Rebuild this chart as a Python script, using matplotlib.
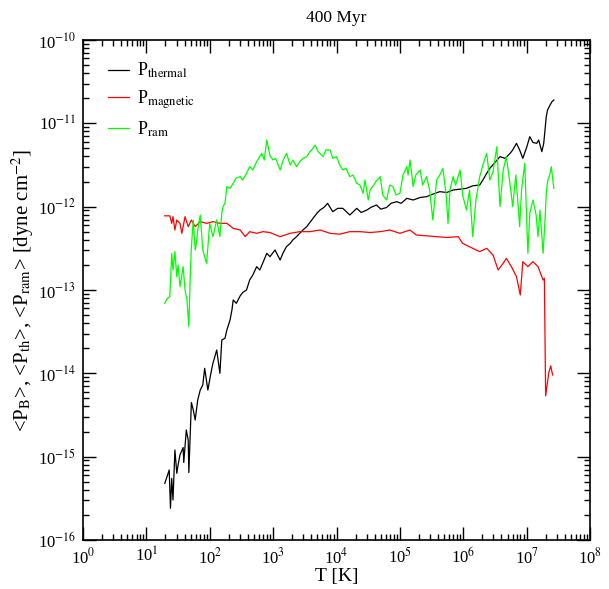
import numpy as np
import matplotlib
matplotlib.use("Agg")
import matplotlib.pyplot as plt

# values, stored as log10(T [K]) and log10(P [dyne cm^-2])
thermal_logT = [1.29, 1.33, 1.36, 1.38, 1.40, 1.42, 1.45, 1.48, 1.50, 1.53, 1.58, 1.59, 1.63, 1.66,
                1.67, 1.71, 1.74, 1.77, 1.81, 1.85, 1.89, 1.92, 1.97, 2.02, 2.05, 2.11, 2.16, 2.19,
                2.24, 2.27, 2.32, 2.35, 2.37, 2.42, 2.48, 2.52, 2.58, 2.63, 2.68, 2.74, 2.79, 2.84,
                2.90, 2.95, 3.03, 3.11, 3.16, 3.21, 3.27, 3.31, 3.37, 3.42, 3.47, 3.53, 3.58, 3.63,
                3.69, 3.74, 3.80, 3.86, 3.94, 4.02, 4.10, 4.21, 4.32, 4.39, 4.48, 4.54, 4.63, 4.70,
                4.79, 4.86, 4.95, 5.02, 5.11, 5.21, 5.32, 5.42, 5.52, 5.63, 5.74, 5.84, 5.95, 6.05,
                6.15, 6.26, 6.31, 6.37, 6.42, 6.50, 6.58, 6.66, 6.74, 6.78, 6.84, 6.89, 6.94, 7.00,
                7.05, 7.10, 7.16, 7.19, 7.24, 7.27, 7.31, 7.33, 7.37, 7.40, 7.43]
thermal_logP = [-15.32, -15.23, -15.16, -15.62, -15.26, -15.52, -14.92, -15.20, -15.10, -14.98, -14.89, -15.07, -14.68, -14.80,
                -15.19, -14.35, -14.44, -14.56, -14.32, -14.20, -14.14, -13.94, -14.20, -13.99, -13.88, -13.72, -14.00, -13.60,
                -13.58, -13.48, -13.36, -13.24, -13.12, -13.16, -13.07, -13.03, -13.00, -12.88, -12.82, -12.72, -12.76, -12.67,
                -12.56, -12.60, -12.52, -12.64, -12.55, -12.48, -12.44, -12.40, -12.36, -12.32, -12.28, -12.24, -12.19, -12.14,
                -12.08, -12.04, -12.01, -11.96, -12.06, -12.02, -12.02, -12.10, -12.02, -12.07, -12.04, -12.01, -11.98, -12.03,
                -12.01, -11.96, -11.94, -11.96, -11.90, -11.92, -11.89, -11.88, -11.85, -11.82, -11.83, -11.80, -11.79, -11.78,
                -11.75, -11.74, -11.68, -11.60, -11.54, -11.47, -11.40, -11.42, -11.36, -11.32, -11.24, -11.32, -11.42, -11.29,
                -11.16, -11.23, -11.24, -11.20, -11.34, -11.24, -10.92, -10.84, -10.78, -10.74, -10.72]

magnetic_logT = [1.29, 1.37, 1.40, 1.42, 1.45, 1.48, 1.53, 1.56, 1.61, 1.66, 1.71, 1.77, 1.85, 1.95,
                 2.05, 2.16, 2.27, 2.37, 2.48, 2.56, 2.63, 2.74, 2.84, 2.95, 3.11, 3.27, 3.42, 3.58,
                 3.74, 3.90, 4.05, 4.21, 4.37, 4.53, 4.69, 4.84, 5.00, 5.08, 5.16, 5.26, 5.42, 5.58,
                 5.74, 5.92, 5.99, 6.15, 6.26, 6.37, 6.47, 6.55, 6.63, 6.68, 6.76, 6.84, 6.90, 6.94,
                 7.02, 7.10, 7.18, 7.26, 7.28, 7.30, 7.35, 7.38, 7.41]
magnetic_logP = [-12.11, -12.11, -12.20, -12.12, -12.28, -12.16, -12.20, -12.32, -12.12, -12.24, -12.16, -12.24, -12.18, -12.20,
                 -12.18, -12.20, -12.20, -12.26, -12.28, -12.36, -12.30, -12.32, -12.30, -12.31, -12.36, -12.32, -12.30, -12.30,
                 -12.28, -12.32, -12.33, -12.30, -12.30, -12.31, -12.30, -12.28, -12.32, -12.30, -12.28, -12.34, -12.35, -12.36,
                 -12.37, -12.36, -12.44, -12.50, -12.54, -12.50, -12.58, -12.76, -12.68, -12.62, -12.72, -12.84, -13.06, -12.66,
                 -12.72, -12.66, -12.72, -12.88, -12.86, -14.27, -13.99, -13.91, -14.02]

ram_logT = [1.29, 1.33, 1.37, 1.40, 1.42, 1.45, 1.48, 1.50, 1.53, 1.58, 1.61, 1.64, 1.67, 1.69,
            1.71, 1.74, 1.77, 1.79, 1.81, 1.85, 1.89, 1.95, 2.00, 2.05, 2.11, 2.16, 2.19, 2.21,
            2.24, 2.27, 2.32, 2.37, 2.41, 2.48, 2.52, 2.58, 2.63, 2.68, 2.74, 2.82, 2.86, 2.90,
            2.95, 3.00, 3.04, 3.11, 3.16, 3.21, 3.27, 3.31, 3.37, 3.42, 3.47, 3.53, 3.58, 3.63,
            3.66, 3.71, 3.79, 3.83, 3.90, 3.94, 4.00, 4.05, 4.10, 4.15, 4.21, 4.26, 4.32, 4.37,
            4.42, 4.45, 4.50, 4.53, 4.57, 4.62, 4.69, 4.73, 4.79, 4.84, 4.89, 4.94, 5.00, 5.05,
            5.11, 5.13, 5.16, 5.21, 5.25, 5.32, 5.36, 5.42, 5.47, 5.52, 5.58, 5.63, 5.68, 5.73,
            5.76, 5.79, 5.84, 5.88, 5.95, 5.99, 6.05, 6.10, 6.15, 6.20, 6.26, 6.31, 6.37, 6.42,
            6.47, 6.53, 6.58, 6.63, 6.68, 6.74, 6.78, 6.83, 6.89, 6.92, 6.97, 7.02, 7.05, 7.10,
            7.15, 7.18, 7.21, 7.26, 7.29, 7.31, 7.33, 7.37, 7.39, 7.41, 7.43]
ram_logP = [-13.16, -13.10, -13.08, -12.56, -12.76, -12.54, -12.84, -12.70, -12.96, -12.72, -13.00, -13.12, -13.44, -12.88,
            -12.48, -12.16, -12.52, -12.44, -12.28, -12.10, -12.52, -12.68, -12.20, -12.36, -12.16, -12.36, -12.08, -12.00,
            -11.96, -11.76, -11.78, -11.72, -11.66, -11.64, -11.68, -11.60, -11.52, -11.56, -11.46, -11.36, -11.44, -11.20,
            -11.39, -11.44, -11.42, -11.56, -11.44, -11.36, -11.50, -11.44, -11.52, -11.46, -11.42, -11.40, -11.34, -11.30,
            -11.26, -11.34, -11.40, -11.32, -11.32, -11.42, -11.40, -11.50, -11.56, -11.54, -11.64, -11.62, -11.72, -11.74,
            -11.84, -11.68, -11.92, -11.80, -11.76, -11.70, -11.64, -11.86, -11.92, -11.74, -11.76, -11.86, -11.84, -11.62,
            -11.52, -11.62, -11.44, -11.76, -11.62, -11.56, -11.74, -11.64, -11.80, -12.16, -11.68, -11.62, -11.54, -11.86,
            -12.20, -11.80, -11.64, -11.74, -11.56, -11.86, -12.04, -11.80, -12.36, -11.92, -11.64, -11.50, -11.36, -11.68,
            -11.58, -11.28, -12.00, -11.56, -11.40, -11.74, -12.00, -11.62, -12.24, -11.80, -11.48, -12.56, -12.08, -11.92,
            -12.10, -12.36, -12.04, -12.56, -12.16, -11.84, -11.70, -11.60, -11.52, -11.66, -11.78]

plt.rcParams['font.family'] = ['Liberation Serif', 'DejaVu Serif']
plt.rcParams['mathtext.fontset'] = 'stix'
plt.rcParams['axes.unicode_minus'] = False


def sci(v, pos):
    # grace style labels: 10^n, exponent as an ordinary atom
    e = int(round(np.log10(v)))
    if e < 0:
        return r'10$^{{-}%d}$' % (-e)
    return r'10$^{%d}$' % e


fig = plt.figure(figsize=(6.09, 5.89), dpi=100)
ax = fig.add_axes([0.1363, 0.0832, 0.8325, 0.8489])

ax.plot(10 ** np.array(thermal_logT), 10 ** np.array(thermal_logP), color='black', lw=0.9,
        label=r'P$_{\rm thermal}$')
ax.plot(10 ** np.array(magnetic_logT), 10 ** np.array(magnetic_logP), color='#ff0000', lw=0.9,
        label=r'P$_{\rm magnetic}$')
ax.plot(10 ** np.array(ram_logT), 10 ** np.array(ram_logP), color='#00ff00', lw=0.9,
        label=r'P$_{\rm ram}$')

ax.set_xscale('log')
ax.set_yscale('log')
ax.set_xlim(1, 1e8)
ax.set_ylim(1e-16, 1e-10)
ax.xaxis.set_major_locator(matplotlib.ticker.FixedLocator(10.0 ** np.arange(0, 9)))
ax.yaxis.set_major_locator(matplotlib.ticker.FixedLocator(10.0 ** np.arange(-16, -9)))
# minor ticks at 2..9 inside each decade only
ax.xaxis.set_minor_locator(matplotlib.ticker.FixedLocator(
    [m * 10.0 ** d for d in range(0, 8) for m in range(2, 10)]))
ax.yaxis.set_minor_locator(matplotlib.ticker.FixedLocator(
    [m * 10.0 ** d for d in range(-16, -10) for m in range(2, 10)]))
ax.xaxis.set_major_formatter(matplotlib.ticker.FuncFormatter(sci))
ax.yaxis.set_major_formatter(matplotlib.ticker.FuncFormatter(sci))
ax.xaxis.set_minor_formatter(matplotlib.ticker.NullFormatter())
ax.yaxis.set_minor_formatter(matplotlib.ticker.NullFormatter())

ax.tick_params(which='both', direction='in', top=True, right=True, labelsize=12, width=1.0)
ax.tick_params(which='major', length=9.5, pad=5)
ax.tick_params(which='minor', length=4.3, labelleft=False, labelbottom=False)
for s in ax.spines.values():
    s.set_linewidth(1.2)

ax.set_title('400 Myr', fontsize=12.5, pad=13)
ax.set_xlabel('T [K]', fontsize=14, labelpad=1)
ax.set_ylabel(r'<P$_{\rm B}$>, <P$_{\rm th}$>, <P$_{\rm ram}$> [dyne cm$^{{-}2}$]', fontsize=15)
ax.yaxis.set_label_coords(-0.093, 0.5)

ax.legend(loc='upper left', bbox_to_anchor=(0.049, 0.958), frameon=False, fontsize=13,
          borderpad=0, borderaxespad=0, handlelength=1.15, handletextpad=0.45, labelspacing=0.45)

fig.savefig('out.png', dpi=100)
